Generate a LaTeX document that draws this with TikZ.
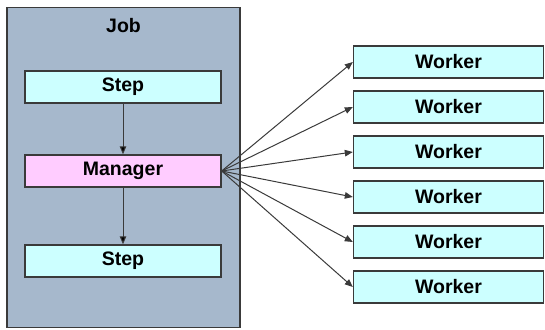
\documentclass[tikz,border=0pt]{standalone}
\usepackage{fontspec}
\setmainfont{Liberation Sans}
\usetikzlibrary{arrows.meta,positioning}
\definecolor{jobgrey}{HTML}{A6B8CC}
\definecolor{stepcyan}{HTML}{CCFFFF}
\definecolor{mgrpink}{HTML}{FFCCFF}
\definecolor{edgegrey}{HTML}{3A3A3A}

\begin{document}
\begin{tikzpicture}[x=1pt,y=-1pt,node distance=45pt,on grid,
    box/.style={draw=edgegrey,line width=1.4pt,inner sep=0pt,
      minimum height=32pt,font=\fontsize{19.5}{22}\selectfont\bfseries},
    stepbox/.style={box,fill=stepcyan,minimum width=196pt},
    workerbox/.style={box,fill=stepcyan,minimum width=190pt},
    >={Triangle[length=8pt,width=6.5pt]}]
   \useasboundingbox (0,0) rectangle (545,329);
   \node[draw=edgegrey,line width=1.4pt,fill=jobgrey,minimum width=233pt,
     minimum height=320pt] (job) at (123.5,167.5) {};
   \node[font=\fontsize{19.5}{22}\selectfont\bfseries] (J) at (123.5,26) {Job};
   \node[box,fill=mgrpink,minimum width=196pt] (M) at (123,171) {Manager};
   \node[stepbox] (S1) at (123,87) {Step};
   \node[stepbox] (S2) at (123,261) {Step};
   \node[workerbox] (W1) at (448.5,62) {Worker};
   \node[workerbox] (W2) [below=of W1] {Worker};
   \node[workerbox] (W3) [below=of W2] {Worker};
   \node[workerbox] (W4) [below=of W3] {Worker};
   \node[workerbox] (W5) [below=of W4] {Worker};
   \node[workerbox] (W6) [below=of W5] {Worker};
    \path[->,draw=edgegrey,line width=1pt]
    (S1) edge (M)
    (M) edge (S2);
    \foreach \w in {1,...,6}
      \draw[->,edgegrey,line width=1pt] (M.east) -- (W\w.west);
\end{tikzpicture}
\end{document}
